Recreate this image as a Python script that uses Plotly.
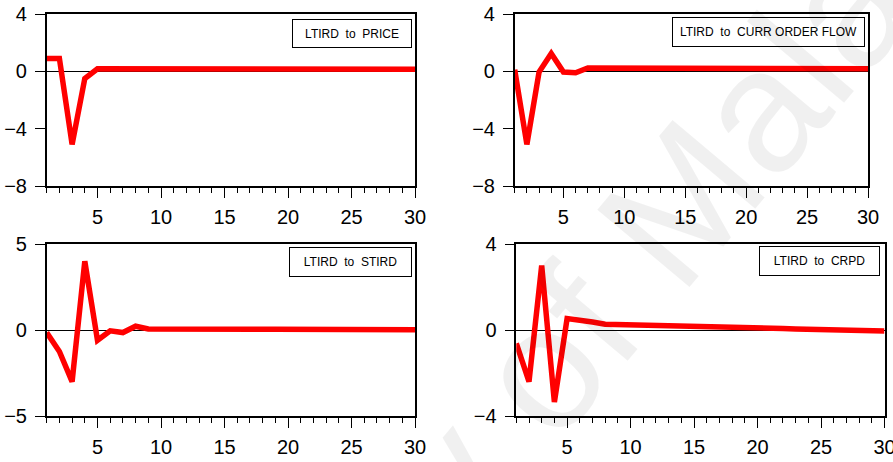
import plotly.graph_objects as go

W, H = 893, 462
periods = list(range(1, 31))

price = [0.9, 0.9, -5.1, -0.5, 0.18, 0.18, 0.17, 0.17, 0.16, 0.16, 0.16, 0.16, 0.15, 0.15, 0.15,
         0.15, 0.15, 0.15, 0.15, 0.15, 0.15, 0.15, 0.15, 0.15, 0.15, 0.15, 0.15, 0.15, 0.15, 0.15]
curr_order_flow = [0.12, -5.1, -0.05, 1.25, -0.05, -0.1, 0.24, 0.24, 0.18, 0.18, 0.18, 0.18, 0.18, 0.18, 0.18,
                   0.18, 0.18, 0.18, 0.18, 0.18, 0.18, 0.18, 0.18, 0.18, 0.18, 0.18, 0.18, 0.18, 0.18, 0.18]
stird = [-0.15, -1.25, -3.0, 4.0, -0.6, -0.05, -0.15, 0.22, 0.06, 0.05, 0.04, 0.08, 0.05, 0.05, 0.05,
         0.05, 0.05, 0.05, 0.05, 0.05, 0.05, 0.05, 0.05, 0.05, 0.05, 0.05, 0.04, 0.02, 0.02, 0.02]
crpd = [-0.62, -2.4, 3.0, -3.35, 0.53, 0.42, 0.37, 0.27, 0.26, 0.25, 0.23, 0.22, 0.21, 0.19, 0.17,
        0.16, 0.14, 0.13, 0.11, 0.09, 0.08, 0.07, 0.05, 0.04, 0.03, 0.01, 0.0, -0.02, -0.03, -0.05]

series = [price, curr_order_flow, stird, crpd]
labels = ["LTIRD\u00a0\u00a0to\u00a0\u00a0PRICE", "LTIRD\u00a0\u00a0to\u00a0\u00a0CURR ORDER FLOW",
          "LTIRD\u00a0\u00a0to\u00a0\u00a0STIRD", "LTIRD\u00a0\u00a0to\u00a0\u00a0CRPD"]
y_ranges = [[-8, 4], [-8, 4], [-5, 5], [-4, 4]]
y_ticks = [[-8, -4, 0, 4], [-8, -4, 0, 4], [-5, 0, 5], [-4, 0, 4]]
x_ticks = [5, 10, 15, 20, 25, 30]

# pixel boxes of plot areas: (left, right, top, bottom)
boxes = [(46.7, 415, 14, 186), (514.7, 868, 14, 186), (46.7, 415, 244, 416), (516.3, 884.5, 244, 416)]
# legend boxes: (right, top, width, height)
legs = [(412, 19, 120, 29), (865, 17, 193, 30), (412, 247, 123, 30), (880, 246, 121, 30)]

font = "Liberation Sans, Arial, sans-serif"
fig = go.Figure()
layout = dict(width=W, height=H, margin=dict(l=0, r=0, t=0, b=0, autoexpand=False),
              paper_bgcolor="white", plot_bgcolor="white", showlegend=False,
              font=dict(family=font, color="black"), annotations=[])

for i, (ys, lab, yr, yt, bx, lg) in enumerate(zip(series, labels, y_ranges, y_ticks, boxes, legs)):
    n = "" if i == 0 else str(i + 1)
    fig.add_trace(go.Scatter(x=periods, y=ys, mode="lines", line=dict(color="#ff0000", width=5.5),
                             xaxis="x" + n, yaxis="y" + n, hoverinfo="skip", cliponaxis=False))
    l, r, t, b = bx
    layout["xaxis" + n] = dict(domain=[l / W, r / W], range=[1, 30], anchor="y" + n, automargin=False,
                               tickvals=x_ticks, ticks="outside", ticklen=10, tickwidth=1, tickcolor="black",
                               minor=dict(ticks="outside", ticklen=5, tickwidth=1, tickcolor="black",
                                          tickmode="linear", tick0=0, dtick=1),
                               showline=True, linecolor="black", linewidth=1.5, mirror=True,
                               showgrid=False, zeroline=False, ticklabelstandoff=2,
                               ticklabeloverflow="allow",
                               tickfont=dict(size=20, family=font, color="black"))
    layout["yaxis" + n] = dict(domain=[1 - b / H, 1 - t / H], range=yr, anchor="x" + n, automargin=False,
                               tickvals=yt, ticks="outside", ticklen=10, tickwidth=1, tickcolor="black",
                               showline=True, linecolor="black", linewidth=1.5, mirror=True,
                               showgrid=False, zeroline=True, zerolinecolor="black", zerolinewidth=1,
                               ticklabelstandoff=4, ticklabeloverflow="allow",
                               tickfont=dict(size=20, family=font, color="black"))
    rr, tt, ww, hh = lg
    layout["annotations"].append(dict(
        text=lab, xref="paper", yref="paper", x=rr / W, y=1 - tt / H, xanchor="right", yanchor="top",
        showarrow=False, width=ww - 2, height=hh - 2, borderpad=0, bordercolor="black", borderwidth=1,
        bgcolor="white", align="center", valign="middle",
        font=dict(size=12, family=font, color="black")))

# faint diagonal watermark
layout["annotations"].append(dict(
    text="University of Malaya", xref="paper", yref="paper", x=490 / W, y=1 - 430 / H,
    xanchor="center", yanchor="middle", showarrow=False, textangle=-50,
    font=dict(size=175, family=font, color="rgba(0,0,0,0.06)")))

fig.update_layout(**layout)
fig.write_html("out.html")
